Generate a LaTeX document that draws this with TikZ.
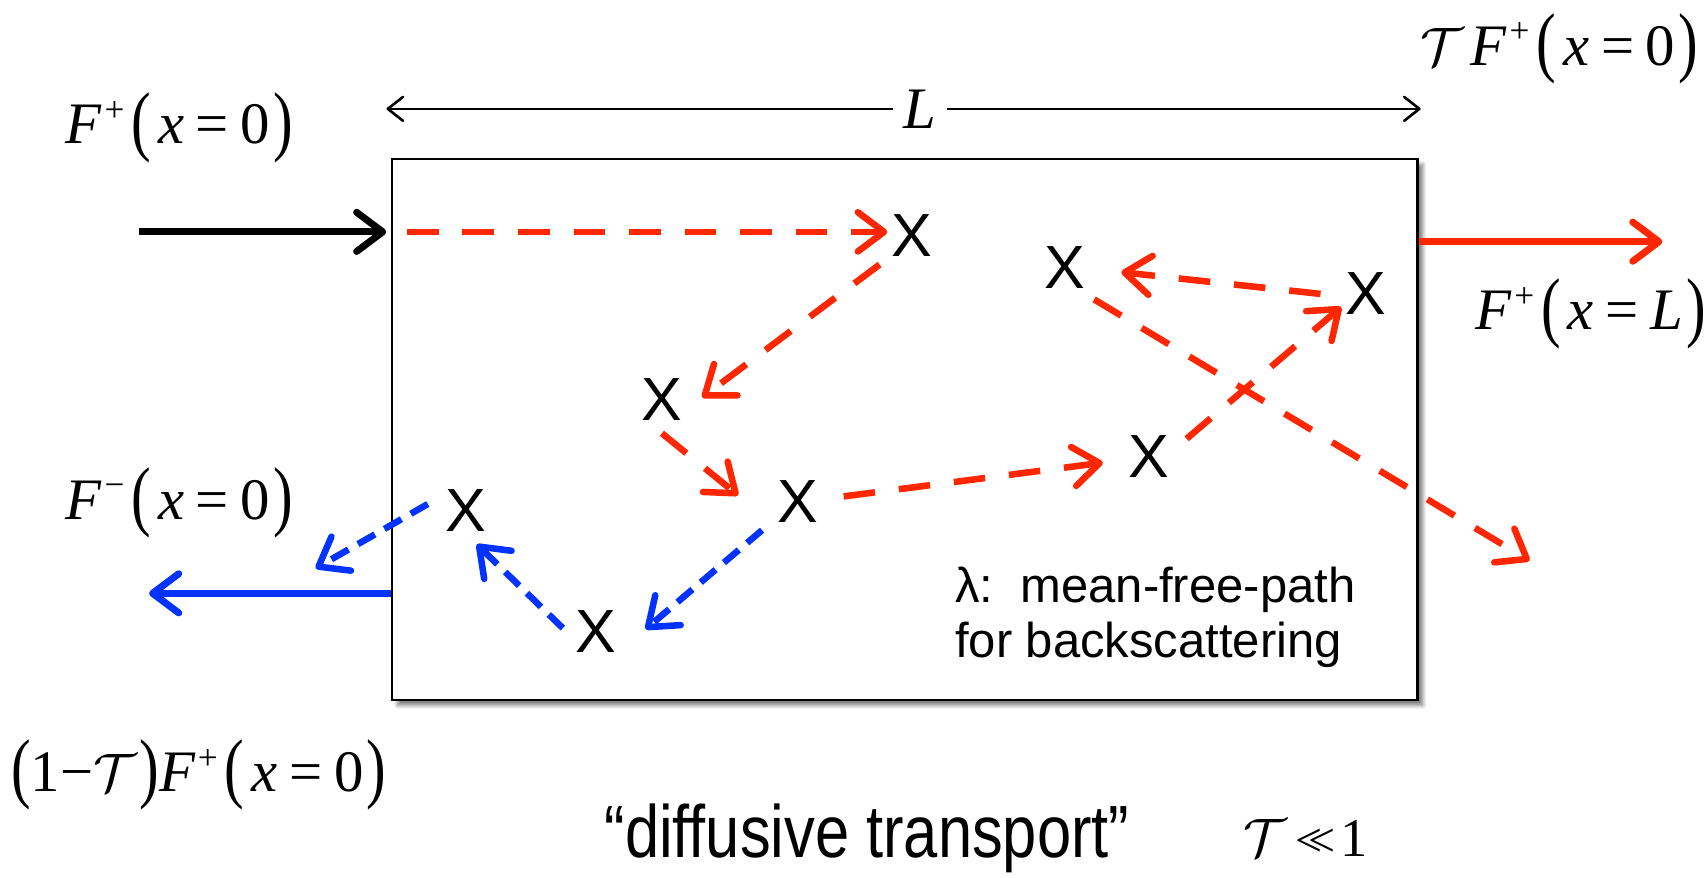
\documentclass[tikz,border=0pt]{standalone}
\usepackage{fontspec}
\setsansfont{Liberation Sans}
\newfontfamily\tnr{Liberation Serif}
\usetikzlibrary{arrows.meta,calc,shadows.blur}
\definecolor{myred}{RGB}{255,38,0}
\definecolor{myblue}{RGB}{0,51,255}
\newcommand{\lpar}{\raisebox{-0.04em}{\scalebox{1}[1.32]{(}}}
\newcommand{\rpar}{\raisebox{-0.04em}{\scalebox{1}[1.32]{)}}}
\newcommand{\sups}[1]{\raisebox{0.38em}{\scalebox{0.6}{#1}}}
\newcommand{\Fpm}[1]{\textit{F}\kern0.04em\sups{#1}}
\newcommand{\xeq}[1]{\lpar\kern0.12em\textit{x}\kern0.2em=\kern0.2em#1\kern0.05em\rpar}
\begin{document}
\begin{tikzpicture}[x=0.5pt,y=-0.5pt,
  tip/.style={-{Straight Barb[length=12pt,width=18pt,line cap=round,line join=round]}},
  reddash/.style={myred,line width=3pt,dash pattern=on 14.5pt off 11pt,tip},
  bluedash/.style={myblue,line width=3pt,dash pattern=on 9pt off 5pt,tip},
  solidarrow/.style={line width=3.2pt,tip},
  xmark/.style={font=\sffamily\fontsize{28}{32}\selectfont,inner sep=0pt},
  mlabel/.style={font=\tnr\fontsize{27}{31}\selectfont,inner sep=0pt,anchor=west},
]
\useasboundingbox (0,0) rectangle (1568,806);
\node[draw,line width=1.2pt,fill=white,minimum width=471pt,minimum height=248.5pt,inner sep=0pt,
  blur shadow={shadow xshift=2.5pt,shadow yshift=-2.5pt,shadow blur steps=6,shadow opacity=50}] (box) at (831,394.5) {};

% labels
\node[mlabel] (fin) at (60,117) {\Fpm{+}\kern0.12em\xeq{0}};
\node[mlabel,anchor=east] (tfout) at (1560,45) {$\mathcal{T}$\kern0.12em\Fpm{+}\kern0.12em\xeq{0}};
\node[mlabel] (fL) at (1355,288) {\Fpm{+}\kern0.12em\xeq{\textit{L}}};
\node[mlabel] (fminus) at (60,462) {\Fpm{−}\kern0.12em\xeq{0}};
\node[mlabel] (refl) at (10,712) {\lpar 1−$\mathcal{T}$\kern0.05em\rpar\Fpm{+}\kern0.12em\xeq{0}};

% L dimension
\coordinate (dl) at (355,100);
\coordinate (dr) at (1305,100);
\draw[line width=1.2pt,{Straight Barb[length=7pt,width=11pt,line cap=round,line join=round]}-{Straight Barb[length=7pt,width=11pt,line cap=round,line join=round]}] (dl) -- (dr);
\node[fill=white,font=\tnr\fontsize{27}{31}\selectfont,inner xsep=5pt,inner ysep=0pt] (Lab) at (845,100) {\textit{L}};

% scattering centres
\node[xmark] (x1) at (838,216) {X};
\node[xmark] (x2) at (978,246) {X};
\node[xmark] (x3) at (1255,270) {X};
\node[xmark] (x4) at (608,367) {X};
\node[xmark] (x5) at (733,461) {X};
\node[xmark] (x6) at (1055,419) {X};
\node[xmark] (x7) at (428,469) {X};
\node[xmark] (x8) at (547,580) {X};

% incident flux
\coordinate (src) at (128,213);
\draw[black,solidarrow,shorten >=2pt] (src) -- (src -| box.west);
\draw[reddash] ($(src -| box.west)+(15,0)$) -- ($(x1)+(-23,-3)$);

% red path
\draw[reddash] ($(x1)+(-30,27)$) -- ($(x4)+(37,-2)$);
\draw[reddash] ($(x4)+(0,31)$) -- ($(x5)+(-55,-6)$);
\draw[reddash] ($(x5)+(42,-5)$) -- ($(x6)+(-42,6)$);
\draw[reddash] ($(x6)+(35,-16)$) -- ($(x3)+(-23,12)$);
\draw[reddash] ($(x3)+(-42,0)$) -- ($(x2)+(52,4)$);
\coordinate (out1) at (1405,515);
\draw[reddash] ($(x2)+(27,29)$) -- (out1);

% transmitted flux
\coordinate (tout) at (1527,222);
\draw[myred,solidarrow] (tout -| box.east) -- (tout);

% blue path
\draw[bluedash] ($(x5)+(-33,26)$) -- ($(x8)+(46,-2)$);
\draw[bluedash] ($(x8)+(-30,-3)$) -- ($(x7)+(10,31)$);
\coordinate (out2) at (290,522);
\draw[bluedash] ($(x7)+(-35,-6)$) -- (out2);

% reflected flux
\coordinate (bout) at (137,545);
\draw[myblue,solidarrow] (bout -| box.west) -- (bout);

% notes
\node[font=\sffamily\fontsize{22.5}{25}\selectfont,align=left,anchor=west,inner sep=0pt] (lam) at (877,567) {λ:\ \ mean-free-path\\for backscattering};
\node[font=\sffamily\fontsize{34}{38}\selectfont,anchor=west,inner sep=0pt] (diff) at (555,770) {\scalebox{0.83}[1]{“diffusive transport”}};
\node[font=\tnr\fontsize{25}{29}\selectfont,anchor=west,inner sep=0pt] (cond) at (1142,770) {$\mathcal{T}$\kern0.15em\scalebox{0.88}{<\kern-0.28em<}\kern0.08em 1};
\end{tikzpicture}
\end{document}
